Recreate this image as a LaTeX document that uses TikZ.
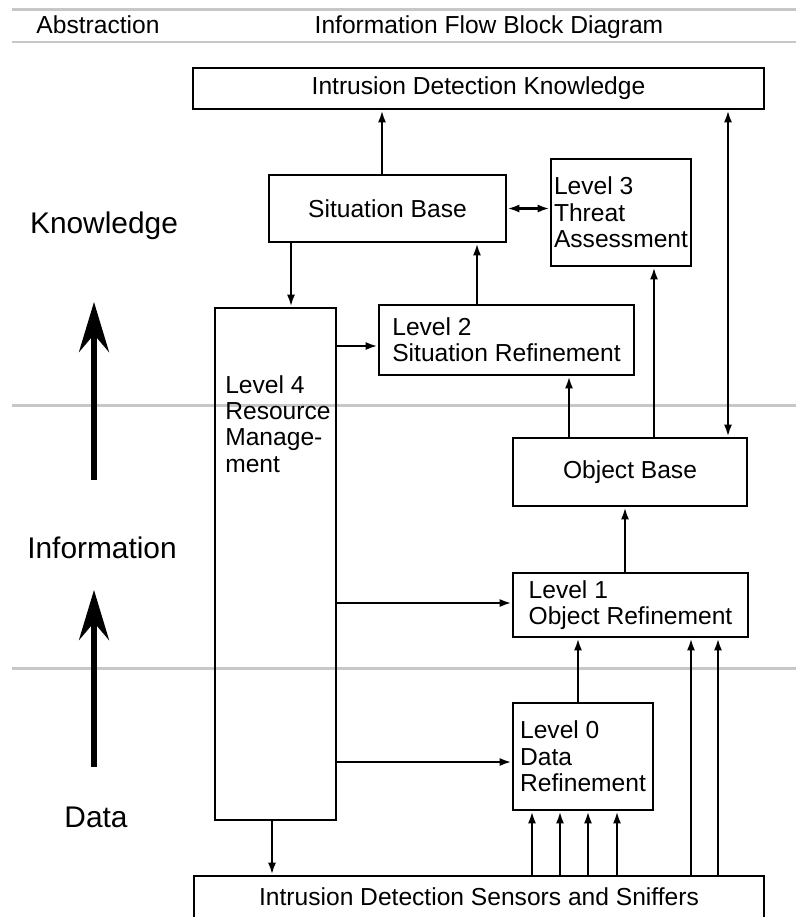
\documentclass[tikz,border=0pt]{standalone}
\usepackage{fontspec}
\setmainfont{Liberation Sans}
\usetikzlibrary{positioning,calc,arrows.meta}

\begin{document}
\begin{tikzpicture}[x=0.02cm, y=-0.02cm, line width=1.5pt,
          font=\fontsize{14}{15}\selectfont,
          blk/.style={draw, rectangle, inner sep=0pt, align=left},
          sz/.style 2 args={minimum width=#1*0.02cm, minimum height=#2*0.02cm},
          rule/.style={draw=black!22, line width=1.7pt},
          head/.style={anchor=base},
          side/.style={font=\fontsize{17}{20}\selectfont},
          arr/.style={-{Latex[length=2.4mm,width=1.6mm]}},
          darr/.style={{Latex[length=2.4mm,width=1.6mm]}-{Latex[length=2.4mm,width=1.6mm]}},
          bigarr/.style={line width=3.4pt, -{Stealth[length=10mm,width=6mm,inset=3.5mm]}}]
        \useasboundingbox (0,0) rectangle (796,917);
        % header and level rules
        \draw[rule] (12,9.5) -- (796,9.5);
        \draw[rule] (12,42) -- (796,42);
        \draw[rule] (12,405) -- (796,405);
        \draw[rule] (12,668) -- (796,668);
        \node[head] (abs)   at (98,33)  {Abstraction};
        \node[head] (title) at (489,33) {Information Flow Block Diagram};

        % abstraction levels
        \node[side] (know) at (104,226) {Knowledge};
        \node[side] (info) at (102,548) {Information};
        \node[side] (data) at (96,817)  {Data};
        \draw[bigarr] (94,480) -- (94,302);
        \draw[bigarr] (94,767) -- (94,590);

        % blocks
        \node[blk, sz={571}{41}]  (idk) at (478.5,88.5) {Intrusion Detection Knowledge};
        \node[blk, sz={237}{67}]  (sb)  at (387.5,208.5) {Situation Base};
        \node[blk, sz={140}{107}] (l3)  at (621,212.5) {Level 3\\Threat\\Assessment};
        \node[blk, sz={121}{512}] (l4)  at (275.5,564) {};
        \node[anchor=north west, inner sep=0pt, align=left] (l4txt) at (224,374) {Level 4\\Resource\\Manage-\\ment};
        \node[blk, sz={255}{70}]  (l2)  at (506.5,340) {Level 2\\Situation Refinement};
        \node[blk, sz={234}{68}]  (ob)  at (630,472) {Object Base};
        \node[blk, sz={235}{64}]  (l1)  at (630.5,605) {Level 1\\Object Refinement};
        \node[blk, sz={140}{107}] (l0)  at (583,756.5) {Level 0\\Data\\Refinement};
        \node[blk, sz={570}{42}]  (sen) at (479,897) {Intrusion Detection Sensors and Sniffers};

        % flows
        \draw[arr]  (382,0 |- sb.north) -- (382,0 |- idk.south);
        \draw[darr] (728,0 |- idk.south) -- (728,0 |- ob.north);
        \draw[darr] (sb.east) -- (sb.east -| l3.west);
        \draw[arr]  (291,0 |- sb.south) -- (291,0 |- l4.north);
        \draw[arr]  (477,0 |- l2.north) -- (477,0 |- sb.south);
        \draw[arr]  (l4.east |- 0,346) -- (l2.west |- 0,346);
        \draw[arr]  (654,0 |- ob.north) -- (654,0 |- l3.south);
        \draw[arr]  (569,0 |- ob.north) -- (569,0 |- l2.south);
        \draw[arr]  (625,0 |- l1.north) -- (625,0 |- ob.south);
        \draw[arr]  (l4.east |- 0,603) -- (l1.west |- 0,603);
        \draw[arr]  (578,0 |- l0.north) -- (578,0 |- l1.south);
        \draw[arr]  (l4.east |- 0,762) -- (l0.west |- 0,762);
        \draw[arr]  (272,0 |- l4.south) -- (272,0 |- sen.north);
        \foreach \x in {532,560,588,617}
          \draw[arr] (\x,0 |- sen.north) -- (\x,0 |- l0.south);
        \foreach \x in {691,718}
          \draw[arr] (\x,0 |- sen.north) -- (\x,0 |- l1.south);
\end{tikzpicture}
\end{document}
